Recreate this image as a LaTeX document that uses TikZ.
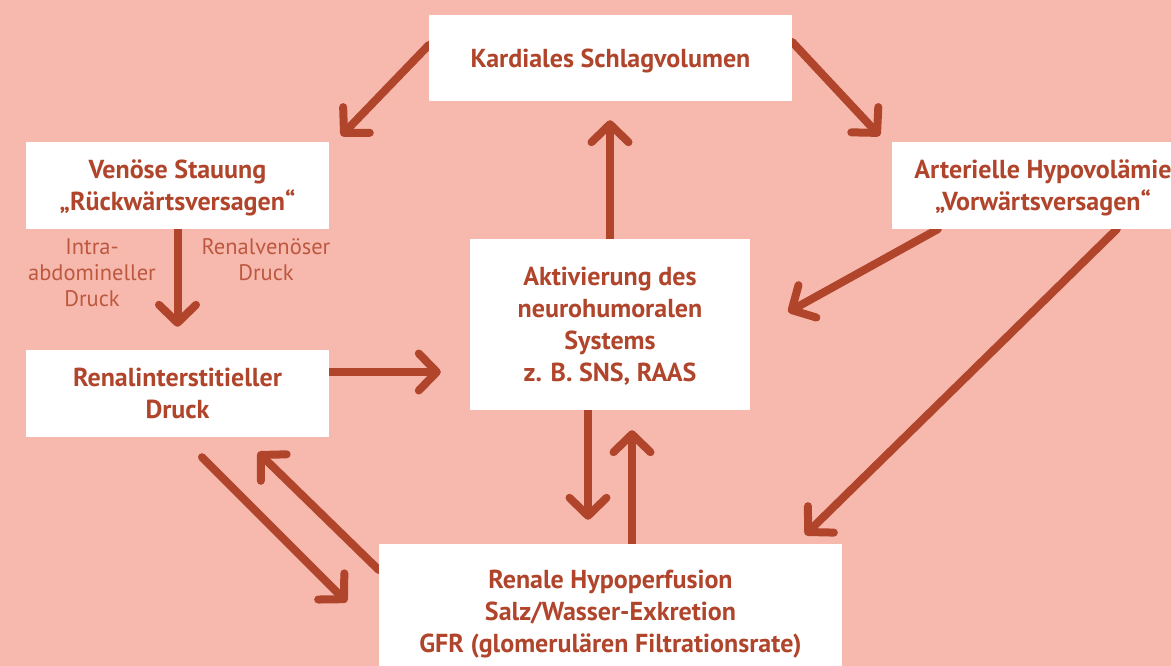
\documentclass[tikz,border=0pt]{standalone}
\usepackage{fontspec}
\setmainfont{PT Sans}
\usetikzlibrary{arrows.meta}
\definecolor{bgc}{HTML}{F7B9AD}
\definecolor{dred}{HTML}{B0452C}
\definecolor{lred}{HTML}{BD5840}
\pgfdeclarelayer{back}
\pgfdeclarelayer{mid}
\pgfsetlayers{back,mid,main}
\begin{document}
\begin{tikzpicture}[x=1pt,y=-1pt,
  box/.style={fill=white, draw=none, text=dred, font=\bfseries\fontsize{26}{32}\selectfont, align=center, inner sep=0pt, text depth=0pt},
  lab/.style={text=lred, font=\fontsize{22.5}{26}\selectfont, align=center, inner sep=0pt, text depth=0pt, anchor=south},
  arr/.style={draw=dred, line width=8pt, line cap=round, -{Straight Barb[length=18pt,width=37pt,round]}}]
\begin{pgfonlayer}{back}
\fill[bgc] (0,0) rectangle (1171,666);
\end{pgfonlayer}
\useasboundingbox (0,0) rectangle (1171,666);
\clip (0,0) rectangle (1171,666);

\node[box, minimum width=363pt, minimum height=86pt] (kard) at (610.5,58) {Kardiales Schlagvolumen};
\node[box, minimum width=303pt, minimum height=87pt] (ven) at (177.5,185.5) {Venöse Stauung\\„Rückwärtsversagen“};
\node[box, minimum width=303pt, minimum height=87pt] (rint) at (177.5,393.5) {Renalinterstitieller\\Druck};
\node[box, minimum width=302pt, minimum height=87pt] (art) at (1043,185.5) {Arterielle Hypovolämie\\„Vorwärtsversagen“};
\node[box, minimum width=280pt, minimum height=171pt] (akt) at (610,324.5) {Aktivierung des\\neurohumoralen\\Systems\\z. B. SNS, RAAS};
\node[box, minimum width=463pt, minimum height=134pt] (ren) at (610.5,611) {Renale Hypoperfusion\\Salz/Wasser-Exkretion\\GFR (glomerulären Filtrationsrate)};

\node[lab] (intra) at (92,307) {Intra-\\abdomineller\\Druck};
\node[lab] (rvd) at (266,281) {Renalvenöser\\Druck};

\begin{pgfonlayer}{mid}
\draw[arr] ([yshift=13pt]kard.west) -- ([xshift=12pt,yshift=6pt]ven.north east);
\draw[arr] ([yshift=16pt]kard.east) -- ([xshift=-12pt,yshift=6pt]art.north west);
\draw[arr] (akt.north) -- ([yshift=-19pt]akt.north |- kard.south);
\draw[arr] (ven.south) -- ([yshift=23pt]rint.north);
\draw[arr] ([yshift=21.5pt]rint.east) -- ([xshift=-29pt,yshift=21.5pt]akt.west |- rint.east);
\draw[arr] ([xshift=46pt]art.south west) -- ([xshift=38pt,yshift=12.5pt]akt.east);
\draw[arr] ([xshift=225pt]art.south west) -- ([xshift=-37pt,yshift=9pt]ren.north east);
\draw[arr] ([xshift=-22pt]akt.south) -- ([xshift=-22.5pt,yshift=24pt]ren.north);
\draw[arr] ([xshift=21.5pt]ren.north) -- ([xshift=22pt,yshift=-20pt]akt.south);
\draw[arr] ([xshift=24.5pt,yshift=-20pt]rint.south) -- ([xshift=-32pt,yshift=9pt]ren.west);
\draw[arr] ([yshift=41pt]ren.west) -- ([xshift=80.5pt,yshift=-15pt]rint.south);
\end{pgfonlayer}
\end{tikzpicture}
\end{document}
